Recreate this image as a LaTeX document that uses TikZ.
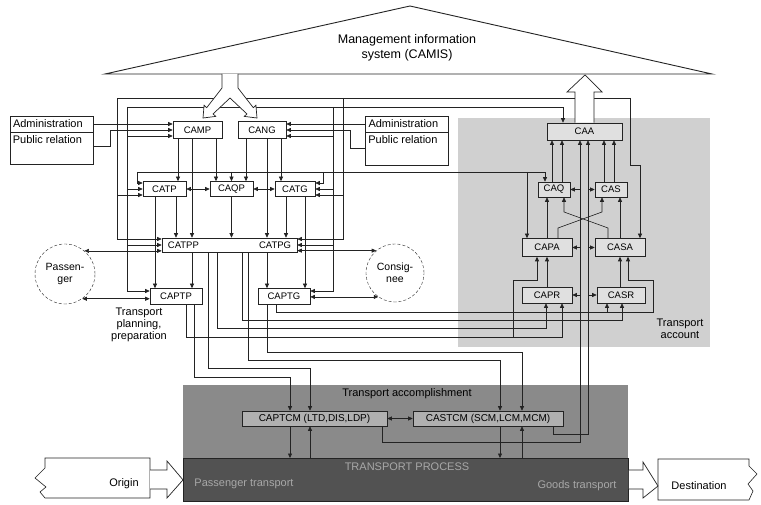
\documentclass[tikz,border=0pt]{standalone}
\usepackage{fontspec}
\setmainfont{Liberation Sans}
\usetikzlibrary{arrows.meta,positioning,calc}
\definecolor{inkgray}{RGB}{35,35,35}
\definecolor{acctgray}{RGB}{208,208,208}
\definecolor{boxgray}{RGB}{224,224,224}
\definecolor{accgray}{RGB}{138,138,138}
\definecolor{cmgray}{RGB}{176,176,176}
\definecolor{procgray}{RGB}{82,82,82}
\definecolor{proctext}{RGB}{168,168,168}

\begin{document}
\begin{tikzpicture}[x=1pt, y=-1pt,
  mod/.style={draw=inkgray, fill=white, line width=0.6pt, minimum height=15pt, inner sep=0pt,
              font=\fontsize{9.5}{10}\selectfont},
  acc/.style={mod, fill=boxgray},
  tcm/.style={mod, fill=cmgray, minimum height=15pt, font=\fontsize{10}{11}\selectfont},
  adbox/.style={draw=inkgray, fill=white, line width=0.6pt, text width=77pt, inner xsep=3pt,
                inner ysep=1pt, align=left, font=\fontsize{11}{12}\selectfont},
  party/.style={circle, draw=inkgray, densely dashed, fill=white, align=center, inner sep=0pt,
                font=\fontsize{10.5}{12}\selectfont},
  zone/.style={anchor=north west, inner sep=0pt},
  lbl/.style={align=center, font=\fontsize{11}{12}\selectfont},
  ln/.style={draw=inkgray, line width=0.6pt},
  arr/.style={ln, -{Triangle[length=4.5pt,width=4pt]}},
  barr/.style={ln, {Triangle[length=4.5pt,width=4pt]}-{Triangle[length=4.5pt,width=4pt]}},
  hollow/.style={draw=inkgray, line width=0.7pt, fill=white, line join=miter}]
\useasboundingbox (0,0) rectangle (761,505);
\fill[white] (0,0) rectangle (761,505);
% shaded zones
\node[zone, fill=acctgray, minimum width=252pt, minimum height=229pt] (acct) at (458,118) {};
\node[zone, fill=accgray, minimum width=445pt, minimum height=75pt] (accomp) at (183,385) {};
\node[zone, fill=procgray, draw=inkgray, line width=0.8pt, minimum width=445pt, minimum height=43pt] (proc) at (183,458) {};
% roof
\draw[ln, line width=0.9pt, fill=white] (105,74) -- (410,6) -- (712,74) -- cycle;
\node[lbl, font=\fontsize{12.5}{15}\selectfont] (camis) at (407,48) {Management information\\system (CAMIS)};
% administration boxes
\node[adbox, minimum height=16pt] (admL) at (51.5,124) {Administration};
\node[adbox, anchor=north, minimum height=32pt] (prL) at (admL.south) {};
\node[anchor=north west, inner sep=0pt, font=\fontsize{11}{12}\selectfont] (prLt) at ([xshift=3pt,yshift=-3pt]prL.north west) {Public relation};
\node[adbox, minimum height=16pt] (admR) at (407,124) {Administration};
\node[adbox, anchor=north, minimum height=33pt] (prR) at (admR.south) {};
\node[anchor=north west, inner sep=0pt, font=\fontsize{11}{12}\selectfont] (prRt) at ([xshift=3pt,yshift=-3pt]prR.north west) {Public relation};
% planning modules
\node[mod, minimum width=49pt, minimum height=17pt] (camp) at (197.5,130) {CAMP};
\node[mod, minimum width=48pt, minimum height=17pt] (cang) at (262,130) {CANG};
\node[mod, minimum width=43pt] (catp) at (164.5,189) {CATP};
\node[mod, minimum width=43pt] (caqp) at (231.5,189) {CAQP};
\node[mod, minimum width=40pt] (catg) at (295,189) {CATG};
\node[mod, minimum width=135pt, minimum height=14pt] (catpp) at (229.5,245) {};
\node[anchor=west, inner sep=0pt, font=\fontsize{9.5}{10}\selectfont] (lblpp) at ([xshift=6pt]catpp.west) {CATPP};
\node[anchor=east, inner sep=0pt, font=\fontsize{9.5}{10}\selectfont] (lblpg) at ([xshift=-6pt]catpp.east) {CATPG};
\node[mod, minimum width=52pt, minimum height=16pt] (captp) at (176,296.5) {CAPTP};
\node[mod, minimum width=52pt, minimum height=16pt] (captg) at (284,296.5) {CAPTG};
\node[party, minimum size=60pt] (pass) at (65,274) {Passen-\\ger};
\node[party, minimum size=58pt] (cons) at (395,273) {Consig-\\nee};
\node[lbl] (planlbl) at (139,325) {Transport\\planning,\\preparation};
% accounting modules
\node[acc, minimum width=75pt, minimum height=17pt] (caa) at (584.5,131.5) {CAA};
\node[acc, minimum width=32pt] (caq) at (554,189.5) {CAQ};
\node[acc, minimum width=32pt] (cas) at (611,189.5) {CAS};
\node[acc, minimum width=50pt, minimum height=18pt] (capa) at (547,247.5) {CAPA};
\node[acc, minimum width=50pt, minimum height=18pt] (casa) at (620,247.5) {CASA};
\node[acc, minimum width=50pt, minimum height=16pt] (capr) at (547,295) {CAPR};
\node[acc, minimum width=48pt, minimum height=16pt] (casr) at (621,295) {CASR};
\node[lbl] (acctlbl) at (680,329) {Transport\\account};
% accomplishment and process
\node[lbl] (accomplbl) at (407,394) {Transport accomplishment};
\node[tcm, minimum width=145pt] (captcm) at (314.5,418.5) {CAPTCM (LTD,DIS,LDP)};
\node[tcm, minimum width=150pt] (castcm) at (488,418.5) {CASTCM (SCM,LCM,MCM)};
\node[lbl, text=proctext] (proclbl) at (407,467) {TRANSPORT PROCESS};
\node[lbl, text=proctext] (passlbl) at (244,484) {Passenger transport};
\node[lbl, text=proctext] (goodslbl) at (577,486) {Goods transport};
% origin and destination
\draw[ln, fill=white] (150,458) -- (45,458) -- (45,468) -- (35,478) -- (46,487) -- (40,492) -- (45,498) -- (150,498) -- cycle;
\node[lbl] (orig) at (124,484) {Origin};
\draw[ln, fill=white] (658,459) -- (749,459) -- (749,466) -- (757,474) -- (748,484) -- (753,491) -- (749,500) -- (658,500) -- cycle;
\node[lbl] (dest) at (699,486) {Destination};

% frame lines
\draw[arr] (630,98) -- (117,98) -- (117,239) -- (catpp.west |- 0,239);
\draw[arr] (630,98) -- (630,165) -- (640,165) -- (casa.north -| 640,0);
\draw[arr] (117,195) -- (catp.west |- 0,195);
\draw[arr] (343,98) -- (343,239) -- (catpp.east |- 0,239);
\draw[arr] (343,195) -- (catg.east |- 0,195);
\draw[arr] (127,107) -- (127,291) -- (captp.west |- 0,291);
\draw[arr] (127,107) -- (563,107) -- (caa.north -| 563,0);
\draw[arr] (127,136) -- (camp.west |- 0,136);
\draw[arr] (127,189) -- (catp.west);
\draw[arr] (127,245) -- (catpp.west);
\draw[arr] (333,107) -- (333,291) -- (captg.east |- 0,291);
\draw[arr] (333,136) -- (cang.east |- 0,136);
\draw[arr] (333,189) -- (catg.east);
\draw[arr] (333,245) -- (catpp.east);
% administration links
\draw[arr] (admL.east) -- (admL.east -| camp.west);
\draw[arr] (prL.east |- 0,146) -- (110,146) -- (110,130) -- (camp.west |- 0,130);
\draw[arr] (admR.west) -- (admR.west -| cang.east);
\draw[arr] (prR.west |- 0,148) -- (350,148) -- (350,130) -- (cang.east |- 0,130);
% quality line
\draw[ln] (137,172) -- (527,172);
\draw[arr] (137,172) -- (137,183) -- (catp.west |- 0,183);
\draw[arr] (323,172) -- (323,183) -- (catg.east |- 0,183);
\draw[arr] (caqp.north |- 0,172) -- (caqp.north);
\draw[arr] (527,172) -- (capa.north -| 527,0);
\draw[arr] (527,172) -- (545,172) -- (caq.north -| 545,0);
% planning flow
\draw[arr] (camp.south -| 178,0) -- (catp.north -| 178,0);
\draw[arr] (camp.south -| 192,0) -- (catpp.north -| 192,0);
\draw[arr] (camp.south -| 216,0) -- (caqp.north -| 216,0);
\draw[arr] (cang.south -| 246,0) -- (caqp.north -| 246,0);
\draw[arr] (cang.south -| 267,0) -- (catpp.north -| 267,0);
\draw[arr] (cang.south -| 281,0) -- (catg.north -| 281,0);
\draw[arr] (catp.south -| 176,0) -- (catpp.north -| 176,0);
\draw[arr] (catp.south -| 155,0) -- (captp.north -| 155,0);
\draw[arr] (caqp.south) -- (caqp.south |- catpp.north);
\draw[arr] (catg.south -| 286,0) -- (catpp.north -| 286,0);
\draw[arr] (catg.south -| 305,0) -- (captg.north -| 305,0);
\draw[arr] (catpp.south -| 192,0) -- (captp.north -| 192,0);
\draw[arr] (catpp.south -| 267,0) -- (captg.north -| 267,0);
\draw[barr] (catp.east) -- (caqp.west);
\draw[barr] (caqp.east) -- (catg.west);
% customers
\draw[barr] (pass.50) -- (pass.50 -| catpp.west);
\draw[barr] (pass.-55) -- (pass.-55 -| captp.west);
\draw[barr] (catpp.east |- cons.130) -- (cons.130);
\draw[barr] (captg.east |- cons.-125) -- (cons.-125);
% planning to accounting and accomplishment
\draw[arr] (captp.south -| 186,0) -- (186,337) -- (513,337) -- (513,280) -- (537,280) -- (capa.south -| 537,0);
\draw[arr] (513,337) -- (562,337) -- (capr.south -| 562,0);
\draw[arr] (captp.south -| 194,0) -- (194,377) -- (290,377) -- (captcm.north -| 290,0);
\draw[arr] (catpp.south -| 208,0) -- (208,368) -- (310,368) -- (captcm.north -| 310,0);
\draw[arr] (catpp.south -| 217,0) -- (217,328) -- (546,328) -- (capr.south -| 546,0);
\draw[arr] (catpp.south -| 242,0) -- (242,320) -- (622,320) -- (casr.south -| 622,0);
\draw[arr] (catpp.south -| 248,0) -- (248,360) -- (500,360) -- (castcm.north -| 500,0);
\draw[arr] (captg.south -| 267,0) -- (267,352) -- (522,352) -- (castcm.north -| 522,0);
\draw[arr] (captg.south -| 276,0) -- (276,312) -- (653,312) -- (653,280) -- (628,280) -- (casa.south -| 628,0);
\draw[arr] (607,312) -- (casr.south -| 607,0);
% accounting flow
\draw[arr] (capr.north -| 547,0) -- (capa.south -| 547,0);
\draw[arr] (casr.north -| 620,0) -- (casa.south -| 620,0);
\draw[arr] (capa.north -| 547,0) -- (caq.south -| 547,0);
\draw[arr] (casa.north -| 620,0) -- (cas.south -| 620,0);
\draw[arr] (capa.north -| 558,0) -- (558,228) -- (602,212) -- (cas.south -| 602,0);
\draw[arr] (casa.north -| 608,0) -- (608,228) -- (564,212) -- (caq.south -| 564,0);
\draw[arr] (caq.north -| 552,0) -- (caa.south -| 552,0);
\draw[arr] (caq.north -| 562,0) -- (caa.south -| 562,0);
\draw[arr] (cas.north -| 604,0) -- (caa.south -| 604,0);
\draw[arr] (cas.north -| 614,0) -- (caa.south -| 614,0);
\draw[arr] (captcm.south -| 382,0) -- (382,442) -- (580,442) -- (caa.south -| 580,0);
\draw[arr] (castcm.south -| 553,0) -- (553,434) -- (588,434) -- (caa.south -| 588,0);
\foreach \l/\r in {caq/cas, capa/casa, capr/casr}{
  \draw[arr] (\l.east -| 580,0) -- (\l.east);
  \draw[arr] (\r.west -| 588,0) -- (\r.west);
}
% accomplishment links
\draw[barr] (captcm.east) -- (castcm.west);
\draw[arr] (captcm.south -| 290,0) -- (proc.north -| 290,0);
\draw[arr] (proc.north -| 310,0) -- (captcm.south -| 310,0);
\draw[arr] (castcm.south -| 500,0) -- (proc.north -| 500,0);
\draw[arr] (proc.north -| 522,0) -- (castcm.south -| 522,0);
% hollow arrows
\draw[hollow] (222,74) -- (222,88) -- (206.7,107.7) -- (204.1,105.2) -- (203,118) -- (215.7,116.4)
  -- (213.1,113.9) -- (230,98) -- (246.9,113.9) -- (244.3,116.4) -- (257,118) -- (255.9,105.2)
  -- (253.3,107.7) -- (238,88) -- (238,74);
\draw[hollow] (caa.north -| 575,0) -- (575,92) -- (567,92) -- (585,75) -- (602,92) -- (594,92) -- (caa.north -| 594,0);
\draw[hollow] (150,470) -- (167,470) -- (167,461) -- (proc.west) -- (167,498) -- (167,489) -- (150,489);
\draw[hollow] (proc.east |- 0,470) -- (643,470) -- (643,462) -- (dest.west -| 658,0) -- (643,498) -- (643,489) -- (proc.east |- 0,489);
\end{tikzpicture}
\end{document}
